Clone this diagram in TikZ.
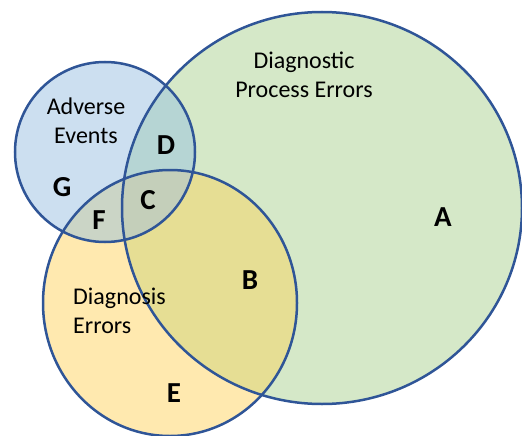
\documentclass[tikz,border=0pt]{standalone}
\usepackage{fontspec}
\setmainfont{Carlito}
\definecolor{ringline}{RGB}{47,85,151}
\definecolor{procfill}{RGB}{213,232,200}
\definecolor{advfill}{RGB}{204,223,240}
\definecolor{diagfill}{RGB}{255,233,175}
\definecolor{procadv}{RGB}{182,213,212}
\definecolor{procdiag}{RGB}{230,222,148}
\definecolor{advdiag}{RGB}{203,213,198}
\definecolor{allthree}{RGB}{196,207,186}
\begin{document}
\begin{tikzpicture}[x=1pt,y=-1pt,
  setlabel/.style={font=\fontsize{24}{29}\selectfont, inner sep=0pt},
  regionlabel/.style={font=\fontsize{29}{35}\selectfont\bfseries, inner sep=0pt},
  ring/.style={draw=ringline, line width=2.5pt}]
\useasboundingbox (0,0) rectangle (522,436);

% set centres
\coordinate (pc) at (322,208);   % diagnostic process errors
\coordinate (ac) at (105,152);   % adverse events
\coordinate (dc) at (170,303);   % diagnosis errors

\def\procpath{(pc) ellipse [x radius=200pt, y radius=196pt]}
\def\advpath{(ac) circle [radius=90pt]}
\def\diagpath{(dc) ellipse [x radius=127pt, y radius=133pt]}

% base fills
\fill[procfill] \procpath;
\fill[advfill] \advpath;
\fill[diagfill] \diagpath;

% pairwise overlaps
\begin{scope}\clip \procpath; \fill[procadv] \advpath; \end{scope}
\begin{scope}\clip \procpath; \fill[procdiag] \diagpath; \end{scope}
\begin{scope}\clip \advpath; \fill[advdiag] \diagpath; \end{scope}
% triple overlap
\begin{scope}\clip \procpath; \clip \advpath; \fill[allthree] \diagpath; \end{scope}

% outlines
\draw[ring] \procpath;
\draw[ring] \advpath;
\draw[ring] \diagpath;

% set titles
\node[setlabel, align=center] (advtitle) at (86,121) {Adverse\\Events};
\node[setlabel, align=center] (proctitle) at (304,75) {Diagnostic\\Process Errors};
\node[setlabel, align=left, anchor=west] (diagtitle) at (73,311) {Diagnosis\\Errors};

% region letters
\node[regionlabel] (la) at (443,217) {A};
\node[regionlabel] (lb) at (250,280) {B};
\node[regionlabel] (lc) at (148,200) {C};
\node[regionlabel] (ld) at (166,145) {D};
\node[regionlabel] (le) at (174,393) {E};
\node[regionlabel] (lf) at (99,220) {F};
\node[regionlabel] (lg) at (62,187) {G};
\end{tikzpicture}
\end{document}
